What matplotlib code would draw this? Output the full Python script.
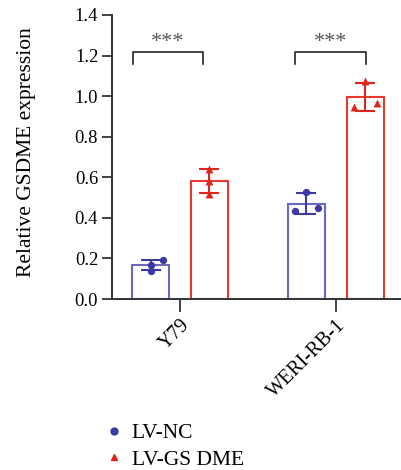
import numpy as np
import matplotlib
matplotlib.use("Agg")
import matplotlib.pyplot as plt
from matplotlib.lines import Line2D

plt.rcParams['font.family'] = ['Liberation Serif', 'DejaVu Serif']

# Data
cell_lines = ["Y79", "WERI-RB-1"]
nc_points = [[0.19, 0.17, 0.14], [0.527, 0.432, 0.45]]
gs_points = [[0.64, 0.583, 0.52], [1.075, 0.947, 0.967]]
nc_jitter = [[0.08, 0.0, 0.0], [0.0, -0.075, 0.075]]
gs_jitter = [[0.0, 0.0, 0.0], [0.0, -0.075, 0.075]]
groups = ["LV-NC", "LV-GS DME"]
sig_labels = ["***", "***"]

nc_col = "#3a3aa0"
nc_edge = "#6a6abc"
gs_col = "#e0251c"
gs_edge = "#e8392f"

fig = plt.figure(figsize=(4.01, 4.70), dpi=100)
ax = fig.add_axes([0.2793, 0.3638, 0.7207, 0.6043])

x = np.arange(len(cell_lines))
off = 0.189
w = 0.234

nc_mean = [np.mean(p) for p in nc_points]
nc_sd = [np.std(p, ddof=1) for p in nc_points]
gs_mean = [np.mean(p) for p in gs_points]
gs_sd = [np.std(p, ddof=1) for p in gs_points]

ax.bar(x - off, nc_mean, w, facecolor="none", edgecolor=nc_edge, linewidth=1.5, zorder=2)
ax.bar(x + off, gs_mean, w, facecolor="none", edgecolor=gs_edge, linewidth=1.5, zorder=2)
ax.errorbar(x - off, nc_mean, yerr=nc_sd, fmt="none", ecolor=nc_col, elinewidth=1.5,
            capsize=7, capthick=1.5, zorder=3)
ax.errorbar(x + off, gs_mean, yerr=gs_sd, fmt="none", ecolor=gs_col, elinewidth=1.5,
            capsize=7, capthick=1.5, zorder=3)

for i in range(len(cell_lines)):
    ax.scatter(x[i] - off + np.array(nc_jitter[i]), nc_points[i], marker="o", s=28,
               color=nc_col, zorder=4, linewidths=0)
    ax.scatter(x[i] + off + np.array(gs_jitter[i]), gs_points[i], marker="^", s=32,
               color=gs_col, zorder=4, linewidths=0)

# significance brackets
brackets = [(-0.30, 0.147), (0.737, 1.19)]
for (x0, x1), lab in zip(brackets, sig_labels):
    ax.plot([x0, x0, x1, x1], [1.16, 1.217, 1.217, 1.16], color="#222222", lw=1.2,
            clip_on=False)
    ax.text((x0 + x1) / 2, 1.22, lab, ha="center", va="bottom", fontsize=16,
            color="#555555")

ax.set_xlim(-0.436, 1.417)
ax.set_ylim(0, 1.4)
ax.set_yticks(np.arange(0, 1.41, 0.2))
ax.set_yticklabels([f"{v:.1f}" for v in np.arange(0, 1.41, 0.2)])
ax.set_xticks(x)
ax.set_xticklabels(cell_lines, rotation=45, ha="right", rotation_mode="anchor", fontsize=14.5)
ax.set_ylabel("Relative GSDME expression", fontsize=15.5)
ax.yaxis.set_label_coords(-0.263, 0.516)

for s in ["top", "right"]:
    ax.spines[s].set_visible(False)
for s in ["left", "bottom"]:
    ax.spines[s].set_linewidth(1.4)
    ax.spines[s].set_color("#333333")
ax.tick_params(axis="both", length=7, width=1.3, color="#333333")
ax.tick_params(axis="y", labelsize=13.3, pad=3)
ax.tick_params(axis="x", length=9, pad=3)

handles = [
    Line2D([], [], marker="o", ls="none", color=nc_col, markersize=5),
    Line2D([], [], marker="^", ls="none", color=gs_col, markersize=5),
]
fig.legend(handles, groups, loc="upper left", bbox_to_anchor=(0.237, 0.118),
           frameon=False, fontsize=15.5, handletextpad=0.3, labelspacing=0.3,
           handlelength=1.0, borderaxespad=0)

fig.savefig("out.png", dpi=100)
